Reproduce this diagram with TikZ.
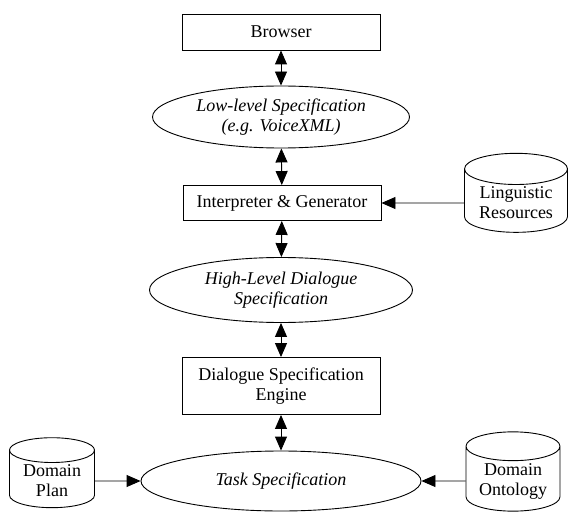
\documentclass[tikz,border=0pt]{standalone}
\usepackage{amsmath}
\usepackage{fontspec}
\setmainfont{Liberation Serif}
\usetikzlibrary{shapes.geometric,arrows.meta}

\begin{document}
\begin{tikzpicture}[x=1pt, y=-1pt, font=\fontsize{18}{20}\selectfont, line width=0.9pt,
                box/.style={draw, minimum width=198pt, align=center, inner sep=2pt},
                spec/.style={draw, ellipse, inner sep=0pt, align=center, font=\fontsize{18}{20}\selectfont\itshape},
                store/.style={draw, cylinder, shape border rotate=90, aspect=0.4, align=center, inner sep=2pt},
                link/.style={-{Triangle[length=14pt,width=12pt]}},
                both/.style={{Triangle[length=14pt,width=12pt]}-{Triangle[length=14pt,width=12pt]}}]
                \useasboundingbox (0,0) rectangle (569,513);
                \node[box, minimum height=36pt] (browser) at (281,32) {Browser};
                \node[spec, minimum width=257pt, minimum height=62pt] (lowspec) at (281,117) {Low-level Specification\\(e.g. VoiceXML)};
                \node[box, minimum height=35pt] (interp) at (282,203) {Interpreter \& Generator};
                \node[spec, minimum width=263pt, minimum height=65pt] (highspec) at (281,290) {High-Level Dialogue\\Specification};
                \node[box, minimum height=57pt] (engine) at (281,386) {Dialogue Specification\\Engine};
                \node[spec, minimum width=280pt, minimum height=60pt] (task) at (281,481) {Task Specification};
                \node[store, minimum width=103pt, minimum height=77pt] (ling) at (516,203) {Linguistic\\Resources};
                \node[store, minimum width=85pt, minimum height=69pt] (plan) at (52,481) {Domain\\Plan};
                \node[store, minimum width=94pt, minimum height=69pt] (onto) at (513,481) {Domain\\Ontology};
                \draw[both] (browser) -- (lowspec);
                \draw[both] (lowspec) -- (interp);
                \draw[both] (interp) -- (highspec);
                \draw[both] (highspec) -- (engine);
                \draw[both] (engine) -- (task);
                \draw[link] (ling) -- (interp);
                \draw[link] (plan) -- (task);
                \draw[link] (onto) -- (task);
            \end{tikzpicture}
\end{document}
